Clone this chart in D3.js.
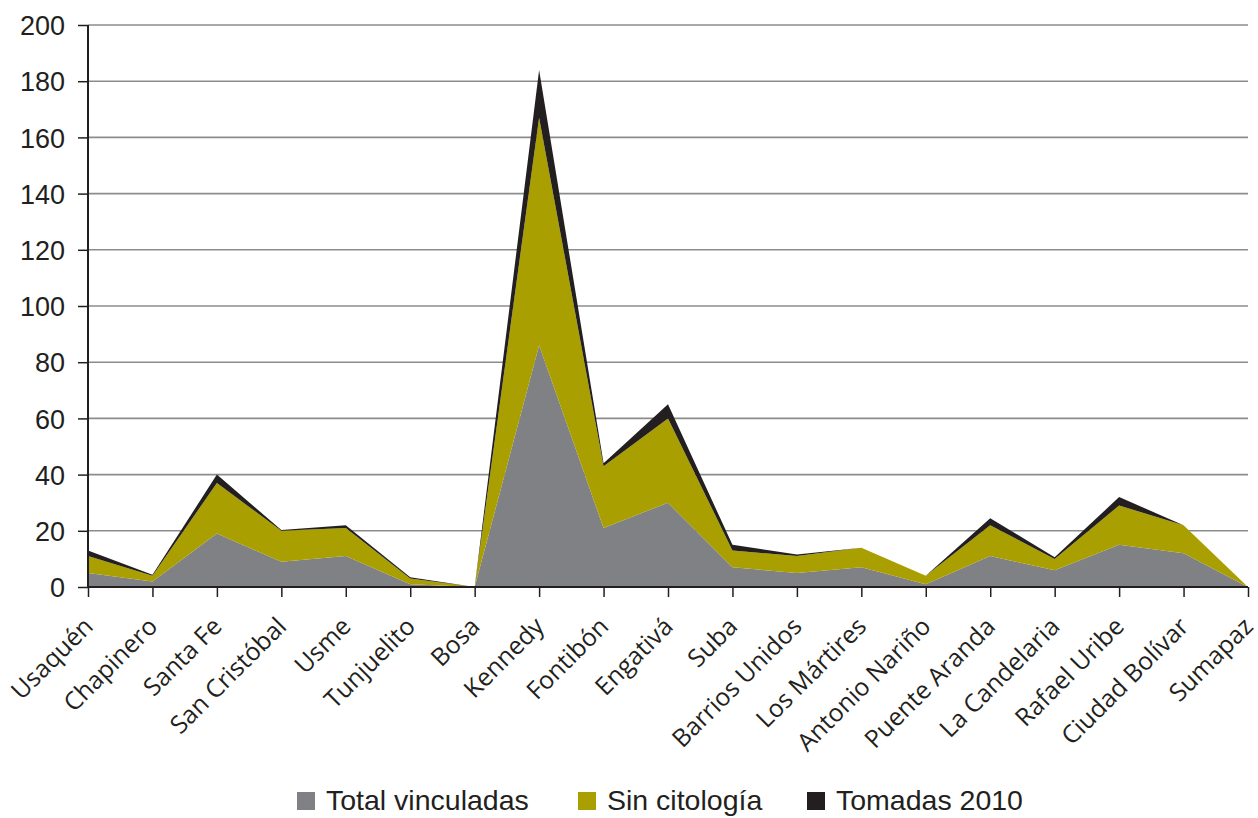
<!DOCTYPE html>
<html>
<head>
<meta charset="utf-8">
<script src="https://cdn.jsdelivr.net/npm/d3@7"></script>
<style>
  html, body { margin: 0; padding: 0; background: #fff; }
  svg { display: block; }
</style>
</head>
<body>
<svg id="chart" width="1258" height="818"></svg>
<script>
// Localidades de Bogotá
const categories = [
  "Usaquén", "Chapinero", "Santa Fe", "San Cristóbal", "Usme", "Tunjuelito",
  "Bosa", "Kennedy", "Fontibón", "Engativá", "Suba", "Barrios Unidos",
  "Los Mártires", "Antonio Nariño", "Puente Aranda", "La Candelaria",
  "Rafael Uribe", "Ciudad Bolívar", "Sumapaz"
];

// Series (apiladas de abajo hacia arriba)
const totalVinculadas = [5, 2, 19, 9, 11, 1, 0, 86, 21, 30, 7, 5, 7, 1, 11, 6, 15, 12, 0];
const sinCitologia    = [6, 2, 18, 11, 10, 2, 0, 81, 22, 30, 6, 6, 7, 3, 11, 4, 14, 10, 0];
const tomadas2010     = [2, 0.4, 3, 0.3, 1, 0.5, 0, 17, 1, 5, 2, 0.6, 0, 0, 2.5, 0.6, 3, 0, 0];

const yTicks = [0, 20, 40, 60, 80, 100, 120, 140, 160, 180, 200];

const seriesNames = ["Total vinculadas", "Sin citología", "Tomadas 2010"];
const seriesColors = ["#808184", "#aa9f00", "#231f20"];

const rows = categories.map((c, i) => ({
  cat: c,
  "Total vinculadas": totalVinculadas[i],
  "Sin citología": sinCitologia[i],
  "Tomadas 2010": tomadas2010[i]
}));

const svg = d3.select("#chart");
const x0 = 88, x1 = 1248;
const y0 = 587, y1 = 25;

const x = d3.scalePoint().domain(categories).range([x0, x1]);
const y = d3.scaleLinear().domain([0, 200]).range([y0, y1]);

// Líneas de cuadrícula horizontales
svg.append("g")
  .selectAll("line")
  .data(yTicks.filter(t => t > 0))
  .join("line")
  .attr("x1", x0).attr("x2", x1)
  .attr("y1", d => y(d)).attr("y2", d => y(d))
  .attr("stroke", "#8c8c8c")
  .attr("stroke-width", 1.6);

// Áreas apiladas
const stack = d3.stack().keys(seriesNames);
const layers = stack(rows);

const area = d3.area()
  .x(d => x(d.data.cat))
  .y0(d => y(d[0]))
  .y1(d => y(d[1]));

svg.append("g")
  .selectAll("path")
  .data(layers)
  .join("path")
  .attr("d", area)
  .attr("fill", (d, i) => seriesColors[i]);

// Eje Y
const yAxis = d3.axisLeft(y).tickValues(yTicks).tickSize(10).tickPadding(13);
const gy = svg.append("g")
  .attr("transform", `translate(${x0},0)`)
  .call(yAxis);
gy.select(".domain").attr("stroke", "#231f20").attr("stroke-width", 2).attr("d", `M0,${y0}V${y1}`);
gy.selectAll(".tick line").attr("stroke", "#231f20").attr("stroke-width", 1.5);
gy.selectAll(".tick text")
  .attr("fill", "#231f20")
  .attr("dy", "0.36em")
  .style("font-family", "'Liberation Sans', Arial, sans-serif")
  .style("font-size", "27px");

// Eje X
const xAxis = d3.axisBottom(x).tickSize(10).tickPadding(0);
const gx = svg.append("g")
  .attr("transform", `translate(0,${y0})`)
  .call(xAxis);
gx.select(".domain").attr("stroke", "#231f20").attr("stroke-width", 2).attr("d", `M${x0},0H${x1}`);
gx.selectAll(".tick line").attr("stroke", "#231f20").attr("stroke-width", 1.5);
gx.selectAll(".tick text")
  .attr("fill", "#231f20")
  .attr("text-anchor", "end")
  .attr("dy", 0)
  .attr("y", 0)
  .attr("transform", "translate(6,41) rotate(-45)")
  .style("font-family", "'Open Sans', sans-serif")
  .style("font-size", "24.8px");

// Leyenda
const legendItems = [
  { name: "Total vinculadas", color: seriesColors[0], x: 297 },
  { name: "Sin citología", color: seriesColors[1], x: 578 },
  { name: "Tomadas 2010", color: seriesColors[2], x: 807 }
];
const lg = svg.append("g");
lg.selectAll("rect")
  .data(legendItems)
  .join("rect")
  .attr("x", d => d.x).attr("y", 792)
  .attr("width", 18).attr("height", 18)
  .attr("fill", d => d.color);
lg.selectAll("text")
  .data(legendItems)
  .join("text")
  .attr("x", d => d.x + 29).attr("y", 810)
  .attr("fill", "#231f20")
  .style("font-family", "'Liberation Sans', Arial, sans-serif")
  .style("font-size", "28.5px")
  .text(d => d.name);
</script>
</body>
</html>
